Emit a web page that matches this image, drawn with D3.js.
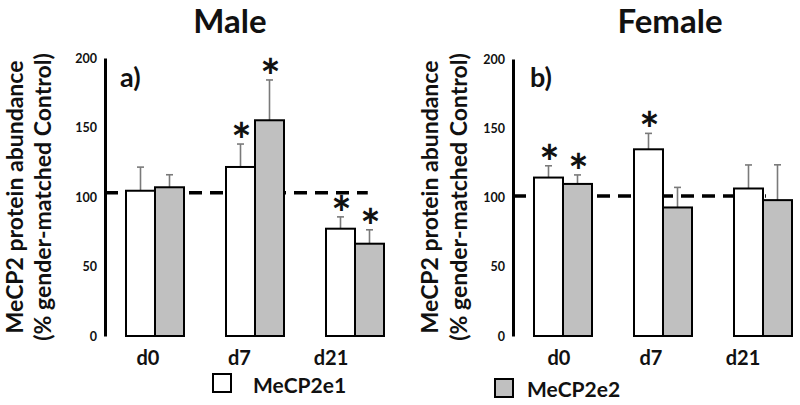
<!DOCTYPE html>
<html>
<head>
<meta charset="utf-8">
<script src="https://cdn.jsdelivr.net/npm/d3@7"></script>
<style>
  html, body { margin: 0; padding: 0; background: #fff; }
  svg { display: block; }
  text { font-family: Lato, "Open Sans", sans-serif; font-weight: bold; fill: #111; }
</style>
</head>
<body>
<svg id="chart" width="800" height="405"></svg>
<script>
// ---- data ----
const categories = ["d0", "d7", "d21"];
const seriesNames = ["MeCP2e1", "MeCP2e2"];
const yTicks = [0, 50, 100, 150, 200];

const maleE1 = [104.5, 121.6, 77.2];
const maleE1Err = [17, 16.5, 8.5];
const maleE2 = [107, 155.2, 66.4];
const maleE2Err = [9, 29, 10];
const maleE1Sig = [false, true, true];
const maleE2Sig = [false, true, true];
const maleRef = 103;

const femaleE1 = [114.4, 134.8, 106.5];
const femaleE1Err = [8.5, 11.5, 17];
const femaleE2 = [109.8, 92.8, 98.1];
const femaleE2Err = [6.5, 14.5, 25.5];
const femaleE1Sig = [true, true, false];
const femaleE2Sig = [true, false, false];
const femaleRef = 101;

const colors = ["#ffffff", "#c0c0c0"];

// ---- layout ----
const svg = d3.select("#chart");

const panels = [
  { title: "Male", tag: "a)", e1: maleE1, e1Err: maleE1Err, e2: maleE2, e2Err: maleE2Err,
    s1: maleE1Sig, s2: maleE2Sig, ref: maleRef,
    axisX: 105, band: [126, 384], labels: [148, 331], titleX: 230, tagX: 120,
    refEnd: 0.72, ylabX: [23, 51], yTop: 58 },
  { title: "Female", tag: "b)", e1: femaleE1, e1Err: femaleE1Err, e2: femaleE2, e2Err: femaleE2Err,
    s1: femaleE1Sig, s2: femaleE2Sig, ref: femaleRef,
    axisX: 513, band: [534, 792], labels: [559, 743], titleX: 670, tagX: 530,
    refEnd: 0.55, ylabX: [438, 467], yTop: 59 }
];

panels.forEach(p => {
  const g = svg.append("g");
  const y = d3.scaleLinear().domain([0, 200]).range([336, p.yTop]);
  const x = d3.scaleBand().domain(categories).range(p.band).paddingInner(0.42).paddingOuter(0);
  const xs = d3.scaleBand().domain(seriesNames).range([0, x.bandwidth()]);
  const xl = d3.scalePoint().domain(categories).range(p.labels);

  // title
  g.append("text").attr("x", p.titleX).attr("y", 33).attr("text-anchor", "middle")
    .style("font-size", "33px").text(p.title);

  // y label
  const yl = g.append("text").attr("transform", `translate(${p.ylabX[0]},197) rotate(-90)`)
    .attr("text-anchor", "middle").style("font-size", "23px");
  yl.append("tspan").attr("x", 0).attr("y", 0).text("MeCP2 protein abundance");
  yl.append("tspan").attr("x", 0).attr("y", p.ylabX[1] - p.ylabX[0]).text("(% gender-matched Control)");

  // y axis
  const axis = d3.axisLeft(y).tickValues(yTicks).tickSize(0).tickPadding(8);
  const ag = g.append("g").attr("transform", `translate(${p.axisX},0)`).call(axis);
  ag.select(".domain").attr("stroke", "#000").attr("stroke-width", 3);
  ag.selectAll(".tick text").style("font-family", "Lato, sans-serif").style("font-weight", "bold")
    .style("font-size", "12.5px").attr("fill", "#111");

  // tag
  g.append("text").attr("x", p.tagX).attr("y", 87).style("font-size", "27px").text(p.tag);

  // reference dashed line (behind bars)
  const last = categories[categories.length - 1];
  g.append("line")
    .attr("x1", p.axisX).attr("x2", x(last) + x.bandwidth() * p.refEnd)
    .attr("y1", y(p.ref)).attr("y2", y(p.ref))
    .attr("stroke", "#000").attr("stroke-width", 3.5).attr("stroke-dasharray", "13,8");

  const series = [
    { name: seriesNames[0], vals: p.e1, err: p.e1Err, sig: p.s1, color: colors[0] },
    { name: seriesNames[1], vals: p.e2, err: p.e2Err, sig: p.s2, color: colors[1] }
  ];

  series.forEach(s => {
    const data = categories.map((c, i) => ({ c, v: s.vals[i], e: s.err[i], sig: s.sig[i] }));
    const bx = d => x(d.c) + xs(s.name);
    const cx = d => bx(d) + xs.bandwidth() / 2;

    // error bars
    g.selectAll(null).data(data).enter().append("line")
      .attr("x1", cx).attr("x2", cx)
      .attr("y1", d => y(d.v)).attr("y2", d => y(d.v + d.e))
      .attr("stroke", "#7a7a7a").attr("stroke-width", 1.6);
    g.selectAll(null).data(data).enter().append("line")
      .attr("x1", d => cx(d) - 3.5).attr("x2", d => cx(d) + 3.5)
      .attr("y1", d => y(d.v + d.e)).attr("y2", d => y(d.v + d.e))
      .attr("stroke", "#7a7a7a").attr("stroke-width", 1.6);

    // bars
    g.selectAll(null).data(data).enter().append("rect")
      .attr("x", bx).attr("width", xs.bandwidth())
      .attr("y", d => y(d.v)).attr("height", d => y(0) - y(d.v))
      .attr("fill", s.color).attr("stroke", "#000").attr("stroke-width", 2);

    // asterisks
    g.selectAll(null).data(data.filter(d => d.sig)).enter().append("text")
      .attr("x", d => cx(d) + 1).attr("y", d => y(d.v + d.e) + 14)
      .attr("text-anchor", "middle").style("font-size", "48px").text("*");
  });

  // x labels
  g.selectAll(null).data(categories).enter().append("text")
    .attr("x", d => xl(d)).attr("y", 365).attr("text-anchor", "middle")
    .style("font-size", "20px").text(d => d);
});

// legend
const legend = [
  { name: seriesNames[0], color: colors[0], bx: 213, by: 374, tx: 253, ty: 393 },
  { name: seriesNames[1], color: colors[1], bx: 495, by: 379, tx: 527, ty: 397 }
];
legend.forEach(l => {
  svg.append("rect").attr("x", l.bx).attr("y", l.by).attr("width", 18).attr("height", 18)
    .attr("fill", l.color).attr("stroke", "#000").attr("stroke-width", 2);
  svg.append("text").attr("x", l.tx).attr("y", l.ty).style("font-size", "21px").text(l.name);
});
</script>
</body>
</html>
